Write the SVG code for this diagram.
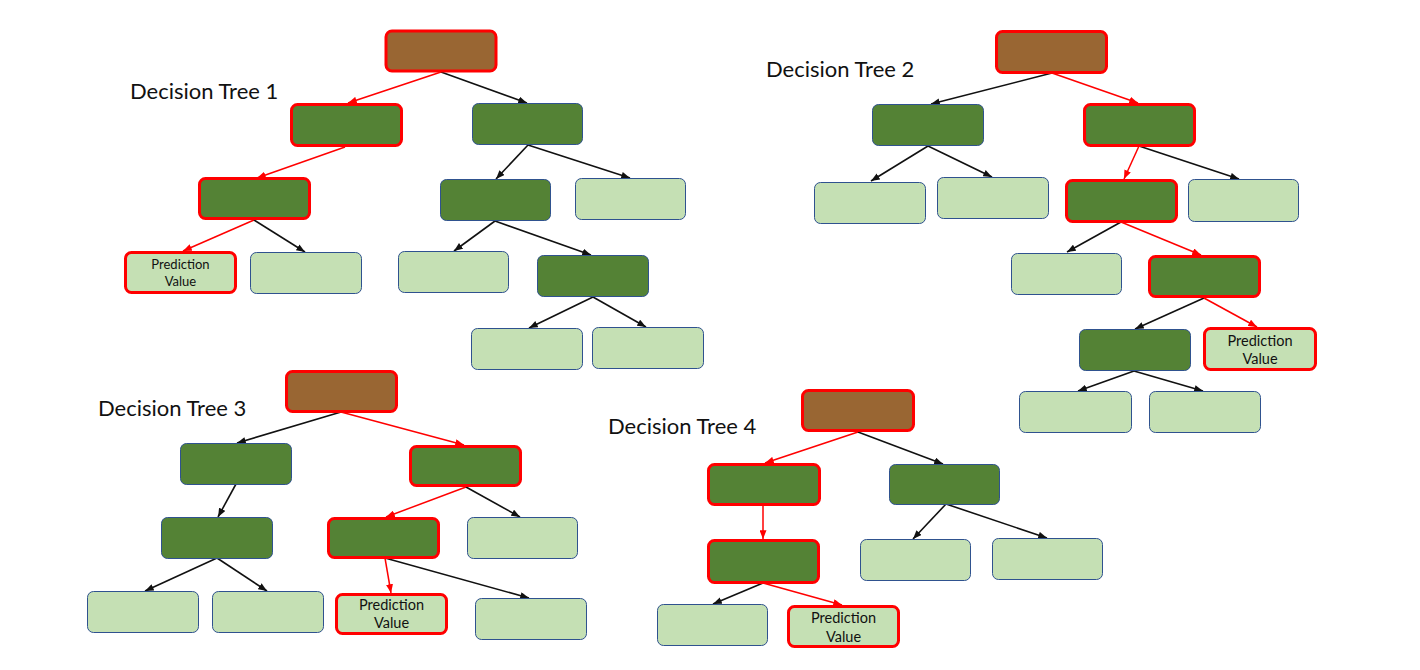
<svg xmlns="http://www.w3.org/2000/svg" width="1420" height="670" viewBox="0 0 1420 670">
<style>
  .root{fill:#996633;stroke:#ff0000;stroke-width:3}
  .gr{fill:#548235;stroke:#ff0000;stroke-width:3}
  .g{fill:#548235;stroke:#2f528f;stroke-width:1}
  .l{fill:#c5e0b4;stroke:#2f528f;stroke-width:1}
  .lr{fill:#c5e0b4;stroke:#ff0000;stroke-width:3}
  .title{font-family:Lato,"Open Sans",sans-serif;font-size:22px;fill:#111}
  .pv{font-family:Lato,"Open Sans",sans-serif;font-size:14.5px;fill:#111;text-anchor:middle}
  .pv1{font-family:Lato,"Open Sans",sans-serif;font-size:13px;fill:#111;text-anchor:middle}
  .k{stroke:#111;stroke-width:1.6;fill:none;marker-end:url(#ak)}
  .r{stroke:#ff0000;stroke-width:1.5;fill:none;marker-end:url(#ar)}
</style>
<defs>
  <marker id="ak" viewBox="0 0 10 8" markerWidth="9" markerHeight="7" refX="10" refY="4" orient="auto" markerUnits="userSpaceOnUse"><path d="M0,0 L10,4 L0,8 z" fill="#111"/></marker>
  <marker id="ar" viewBox="0 0 10 8" markerWidth="9" markerHeight="7" refX="10" refY="4" orient="auto" markerUnits="userSpaceOnUse"><path d="M0,0 L10,4 L0,8 z" fill="#ff0000"/></marker>
</defs>
<rect width="1420" height="670" fill="#ffffff"/>

<g id="titles">
  <text class="title" x="130" y="99">Decision Tree 1</text>
  <text class="title" x="766" y="77">Decision Tree 2</text>
  <text class="title" x="98" y="416">Decision Tree 3</text>
  <text class="title" x="608" y="434">Decision Tree 4</text>
</g>

<g id="connectors">
  <!-- Tree 1 -->
  <line class="r" x1="441" y1="72" x2="348" y2="103"/>
  <line class="k" x1="441" y1="72" x2="527" y2="103"/>
  <line class="r" x1="345" y1="147" x2="257" y2="178"/>
  <line class="k" x1="528" y1="145" x2="496" y2="179"/>
  <line class="k" x1="528" y1="145" x2="630" y2="178"/>
  <line class="r" x1="254" y1="220" x2="183" y2="251"/>
  <line class="k" x1="254" y1="220" x2="305" y2="252"/>
  <line class="k" x1="495" y1="221" x2="454" y2="251"/>
  <line class="k" x1="495" y1="221" x2="591" y2="255"/>
  <line class="k" x1="593" y1="297" x2="529" y2="328"/>
  <line class="k" x1="593" y1="297" x2="646" y2="327"/>
  <!-- Tree 2 -->
  <line class="k" x1="1052" y1="73" x2="931" y2="104"/>
  <line class="r" x1="1052" y1="73" x2="1138" y2="103"/>
  <line class="k" x1="928" y1="146" x2="871" y2="181"/>
  <line class="k" x1="928" y1="146" x2="992" y2="177"/>
  <line class="r" x1="1139" y1="146" x2="1124" y2="179"/>
  <line class="k" x1="1139" y1="146" x2="1239" y2="179"/>
  <line class="k" x1="1121" y1="222" x2="1067" y2="252"/>
  <line class="r" x1="1121" y1="222" x2="1201" y2="255"/>
  <line class="k" x1="1204" y1="298" x2="1135" y2="329"/>
  <line class="r" x1="1204" y1="298" x2="1257" y2="327"/>
  <line class="k" x1="1134" y1="371" x2="1078" y2="391"/>
  <line class="k" x1="1134" y1="371" x2="1203" y2="391"/>
  <!-- Tree 3 -->
  <line class="k" x1="341" y1="412" x2="237" y2="443"/>
  <line class="r" x1="341" y1="412" x2="464" y2="445"/>
  <line class="k" x1="236" y1="484" x2="218" y2="517"/>
  <line class="r" x1="466" y1="487" x2="386" y2="517"/>
  <line class="k" x1="466" y1="487" x2="520" y2="517"/>
  <line class="k" x1="217" y1="558" x2="145" y2="591"/>
  <line class="k" x1="217" y1="558" x2="267" y2="591"/>
  <line class="r" x1="385" y1="558" x2="391" y2="593"/>
  <line class="k" x1="385" y1="558" x2="529" y2="598"/>
  <!-- Tree 4 -->
  <line class="r" x1="858" y1="432" x2="765" y2="463"/>
  <line class="k" x1="858" y1="432" x2="943" y2="464"/>
  <line class="r" x1="763" y1="506" x2="763" y2="539"/>
  <line class="k" x1="946" y1="504" x2="913" y2="539"/>
  <line class="k" x1="946" y1="504" x2="1047" y2="538"/>
  <line class="k" x1="763" y1="583" x2="713" y2="604"/>
  <line class="r" x1="763" y1="583" x2="842" y2="605"/>
</g>

<!-- Tree 1 nodes -->
<g id="t1-root"><rect class="root" x="386" y="31" width="110" height="40" rx="6"/></g>
<g id="t1-n1"><rect class="gr" x="291.5" y="104.5" width="110" height="41" rx="6"/></g>
<g id="t1-n2"><rect class="g" x="472.5" y="103.5" width="110" height="41" rx="6"/></g>
<g id="t1-n3"><rect class="gr" x="199.5" y="178.5" width="110" height="40" rx="6"/></g>
<g id="t1-n4"><rect class="g" x="440.5" y="179.5" width="110" height="41" rx="6"/></g>
<g id="t1-n5"><rect class="l" x="575.5" y="178.5" width="110" height="41" rx="6"/></g>
<g id="t1-n6"><rect class="lr" x="125.5" y="252.5" width="110" height="40" rx="6"/>
  <text class="pv1" x="180.5" y="269">Prediction</text><text class="pv1" x="180.5" y="286">Value</text></g>
<g id="t1-n7"><rect class="l" x="250.5" y="252.5" width="111" height="41" rx="6"/></g>
<g id="t1-n8"><rect class="l" x="398.5" y="251.5" width="110" height="41" rx="6"/></g>
<g id="t1-n9"><rect class="g" x="537.5" y="255.5" width="111" height="41" rx="6"/></g>
<g id="t1-n10"><rect class="l" x="471.5" y="328.5" width="111" height="41" rx="6"/></g>
<g id="t1-n11"><rect class="l" x="592.5" y="327.5" width="111" height="41" rx="6"/></g>

<!-- Tree 2 nodes -->
<g id="t2-root"><rect class="root" x="996.5" y="31.5" width="110" height="41" rx="6"/></g>
<g id="t2-n1"><rect class="g" x="872.5" y="104.5" width="111" height="41" rx="6"/></g>
<g id="t2-n2"><rect class="gr" x="1084.5" y="104.5" width="110" height="41" rx="6"/></g>
<g id="t2-n3"><rect class="l" x="814.5" y="182.5" width="111" height="41" rx="6"/></g>
<g id="t2-n4"><rect class="l" x="937.5" y="177.5" width="111" height="41" rx="6"/></g>
<g id="t2-n5"><rect class="gr" x="1066.5" y="180.5" width="110" height="41" rx="6"/></g>
<g id="t2-n6"><rect class="l" x="1188.5" y="179.5" width="110" height="42" rx="6"/></g>
<g id="t2-n7"><rect class="l" x="1011.5" y="253.5" width="110" height="41" rx="6"/></g>
<g id="t2-n8"><rect class="gr" x="1149.5" y="256.5" width="110" height="40" rx="6"/></g>
<g id="t2-n9"><rect class="g" x="1079.5" y="329.5" width="111" height="41" rx="6"/></g>
<g id="t2-n10"><rect class="lr" x="1204.5" y="328.5" width="111" height="41" rx="6"/>
  <text class="pv" x="1260" y="346">Prediction</text><text class="pv" x="1260" y="364">Value</text></g>
<g id="t2-n11"><rect class="l" x="1019.5" y="391.5" width="112" height="41" rx="6"/></g>
<g id="t2-n12"><rect class="l" x="1149.5" y="391.5" width="111" height="41" rx="6"/></g>

<!-- Tree 3 nodes -->
<g id="t3-root"><rect class="root" x="286.5" y="371.5" width="110" height="40" rx="6"/></g>
<g id="t3-n1"><rect class="g" x="180.5" y="443.5" width="111" height="41" rx="6"/></g>
<g id="t3-n2"><rect class="gr" x="410.5" y="446.5" width="110" height="39" rx="6"/></g>
<g id="t3-n3"><rect class="g" x="161.5" y="517.5" width="111" height="41" rx="6"/></g>
<g id="t3-n4"><rect class="gr" x="328.5" y="518.5" width="110" height="39" rx="6"/></g>
<g id="t3-n5"><rect class="l" x="467.5" y="517.5" width="110" height="41" rx="6"/></g>
<g id="t3-n6"><rect class="l" x="87.5" y="591.5" width="111" height="41" rx="6"/></g>
<g id="t3-n7"><rect class="l" x="212.5" y="591.5" width="111" height="41" rx="6"/></g>
<g id="t3-n8"><rect class="lr" x="336.5" y="594.5" width="110" height="39" rx="6"/>
  <text class="pv" x="391.5" y="610">Prediction</text><text class="pv" x="391.5" y="628">Value</text></g>
<g id="t3-n9"><rect class="l" x="475.5" y="598.5" width="111" height="41" rx="6"/></g>

<!-- Tree 4 nodes -->
<g id="t4-root"><rect class="root" x="802.5" y="390.5" width="111" height="40" rx="6"/></g>
<g id="t4-n1"><rect class="gr" x="708.5" y="464.5" width="111" height="40" rx="6"/></g>
<g id="t4-n2"><rect class="g" x="889.5" y="464.5" width="110" height="40" rx="6"/></g>
<g id="t4-n3"><rect class="gr" x="708.5" y="540.5" width="110" height="42" rx="6"/></g>
<g id="t4-n4"><rect class="l" x="860.5" y="539.5" width="110" height="41" rx="6"/></g>
<g id="t4-n5"><rect class="l" x="992.5" y="538.5" width="110" height="41" rx="6"/></g>
<g id="t4-n6"><rect class="l" x="657.5" y="604.5" width="110" height="41" rx="6"/></g>
<g id="t4-n7"><rect class="lr" x="788.5" y="606.5" width="110" height="40" rx="6"/>
  <text class="pv" x="843.5" y="623">Prediction</text><text class="pv" x="843.5" y="642">Value</text></g>
</svg>
